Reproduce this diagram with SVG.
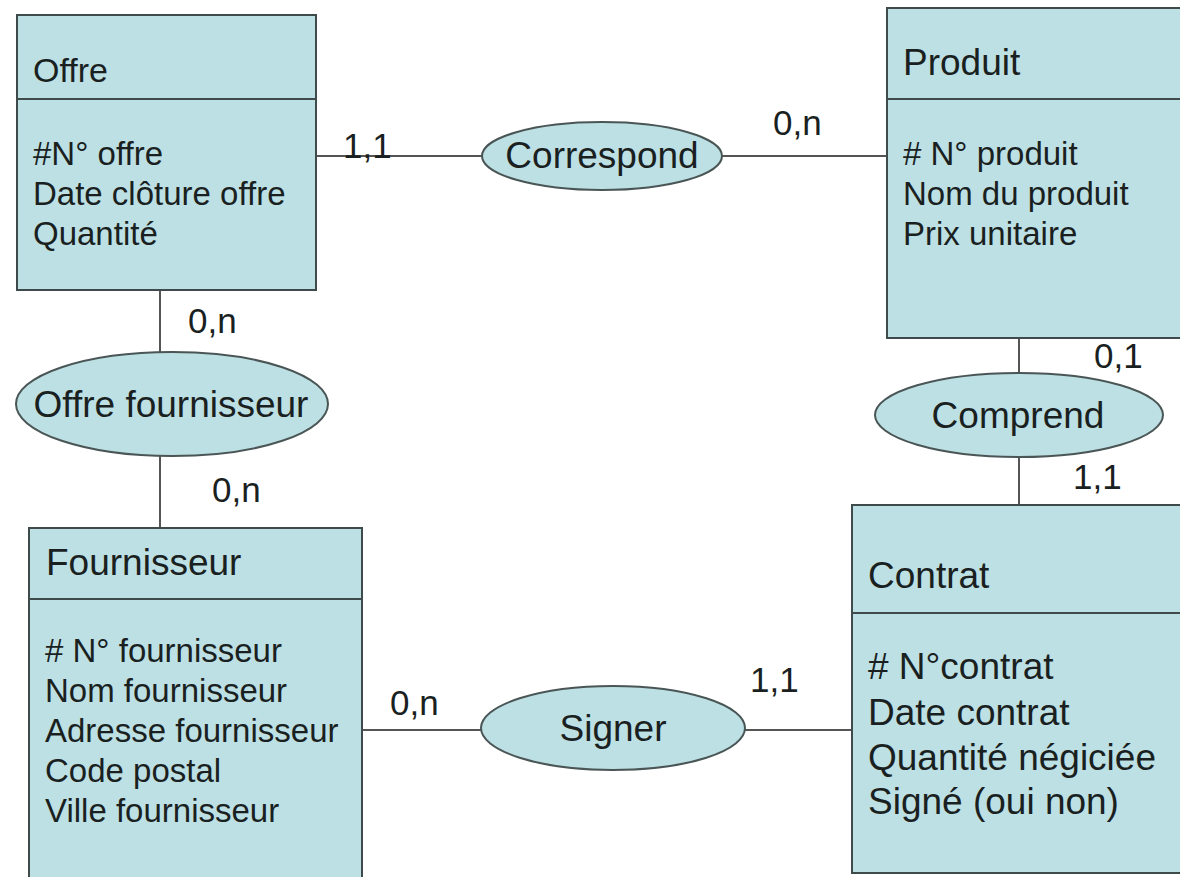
<svg xmlns="http://www.w3.org/2000/svg" width="1180" height="877" viewBox="0 0 1180 877">
<style>
.box{fill:#bde0e4;stroke:#3f4a4a;stroke-width:2}
.div{stroke:#3f4a4a;stroke-width:2}
.ell{fill:#bde0e4;stroke:#4a5555;stroke-width:2}
.ln{stroke:#555;stroke-width:2;fill:none}
text{font-family:"Liberation Sans",Arial,sans-serif;fill:#1a1f1f}
.t{font-size:37px}
.a{font-size:33px}
.ac{font-size:37px}
.e{font-size:37px;text-anchor:middle}
.c{font-size:35px}
</style>
<rect width="1180" height="877" fill="#ffffff"/>
<g id="connectors">
<line class="ln" x1="316" y1="156" x2="887" y2="156"/>
<line class="ln" x1="160" y1="290" x2="160" y2="528"/>
<line class="ln" x1="1019" y1="338" x2="1019" y2="505"/>
<line class="ln" x1="362" y1="730" x2="852" y2="730"/>
<text class="c" x="343" y="158">1,1</text>
<text class="c" x="773" y="135">0,n</text>
<text class="c" x="188" y="333">0,n</text>
<text class="c" x="212" y="502">0,n</text>
<text class="c" x="1094" y="368">0,1</text>
<text class="c" x="1073" y="489">1,1</text>
<text class="c" x="390" y="715">0,n</text>
<text class="c" x="750" y="692">1,1</text>
</g>
<g id="offre">
<rect class="box" x="17" y="15" width="299" height="275"/>
<line class="div" x1="17" y1="99" x2="316" y2="99"/>
<text class="a" x="33" y="82" style="font-size:34px">Offre</text>
<text class="a" x="33" y="165">#N° offre</text>
<text class="a" x="33" y="205">Date clôture offre</text>
<text class="a" x="33" y="245">Quantité</text>
</g>
<g id="produit">
<rect class="box" x="887" y="8" width="300" height="330"/>
<line class="div" x1="887" y1="99" x2="1180" y2="99"/>
<text class="t" x="903" y="75">Produit</text>
<text class="a" x="903" y="165"># N° produit</text>
<text class="a" x="903" y="205">Nom du produit</text>
<text class="a" x="903" y="245">Prix unitaire</text>
</g>
<g id="fournisseur">
<rect class="box" x="29" y="528" width="333" height="360"/>
<line class="div" x1="29" y1="599" x2="362" y2="599"/>
<text class="t" x="46" y="575">Fournisseur</text>
<text class="a" x="45" y="662"># N° fournisseur</text>
<text class="a" x="45" y="702">Nom fournisseur</text>
<text class="a" x="45" y="742">Adresse fournisseur</text>
<text class="a" x="45" y="782">Code postal</text>
<text class="a" x="45" y="822">Ville fournisseur</text>
</g>
<g id="contrat">
<rect class="box" x="852" y="505" width="340" height="368"/>
<line class="div" x1="852" y1="613" x2="1180" y2="613"/>
<text class="t" x="868" y="588">Contrat</text>
<text class="ac" x="868" y="679"># N°contrat</text>
<text class="ac" x="868" y="725">Date contrat</text>
<text class="ac" x="868" y="770">Quantité négiciée</text>
<text class="ac" x="868" y="814">Signé (oui non)</text>
</g>
<g id="correspond">
<ellipse class="ell" cx="602" cy="156" rx="120" ry="34"/>
<text class="e" x="602" y="168">Correspond</text>
</g>
<g id="offre-fournisseur">
<ellipse class="ell" cx="172" cy="404" rx="156" ry="52"/>
<text class="e" x="171" y="417">Offre fournisseur</text>
</g>
<g id="comprend">
<ellipse class="ell" cx="1019" cy="415" rx="144" ry="42"/>
<text class="e" x="1018" y="428">Comprend</text>
</g>
<g id="signer">
<ellipse class="ell" cx="613" cy="728" rx="132" ry="42"/>
<text class="e" x="613" y="741">Signer</text>
</g>
</svg>
